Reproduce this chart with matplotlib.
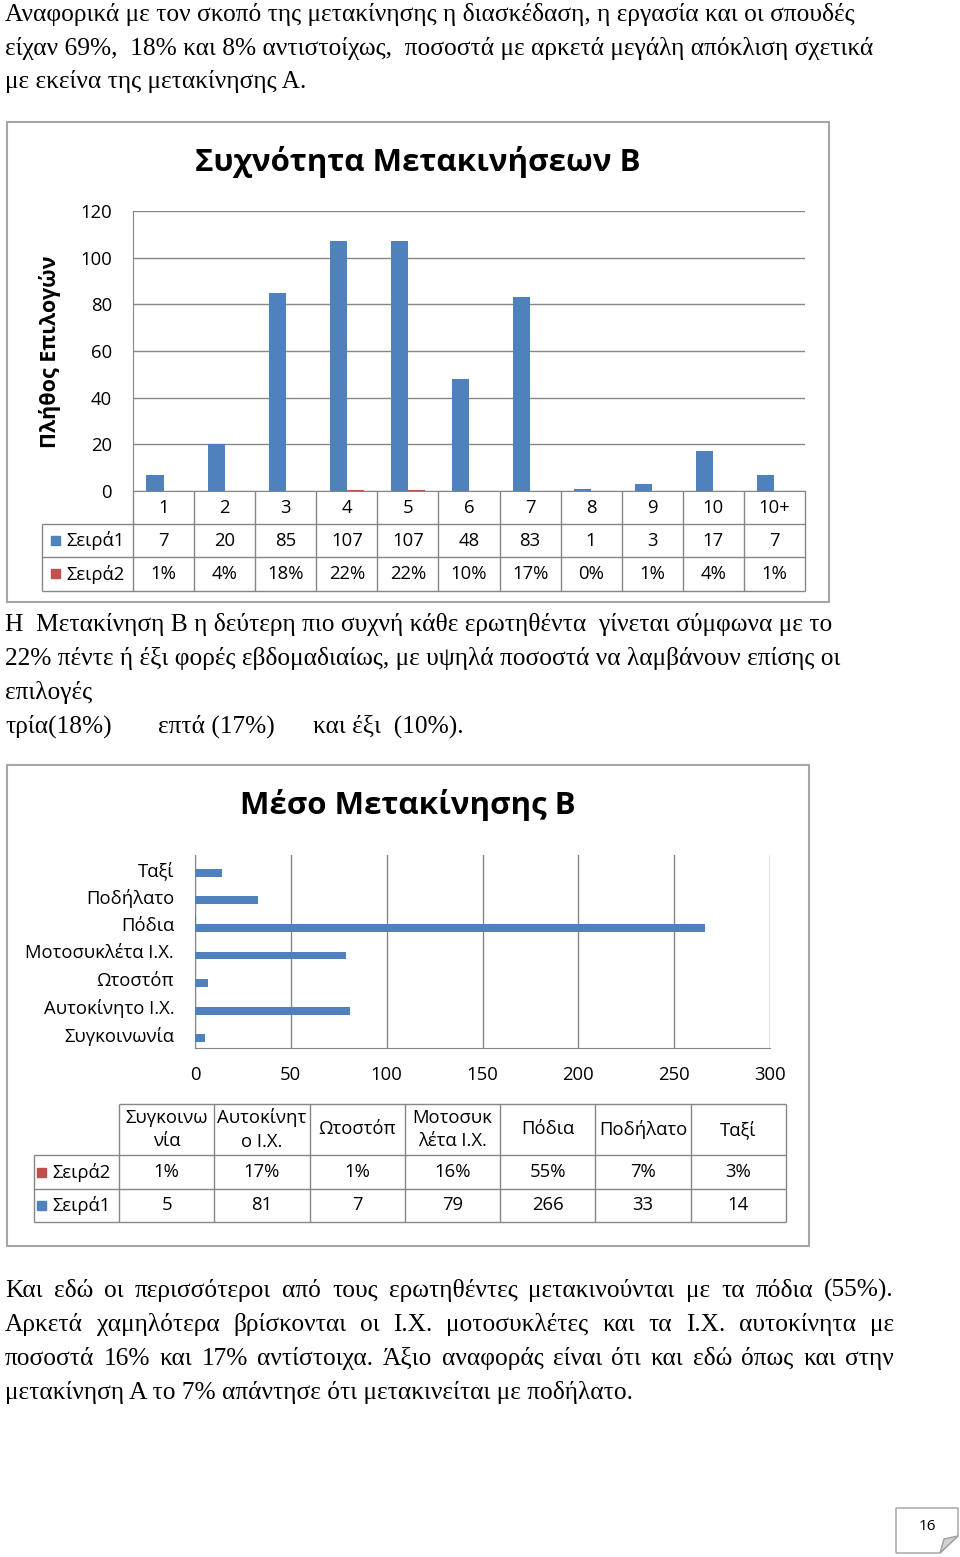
import matplotlib.pyplot as plt
from matplotlib.patches import Rectangle, Polygon
import numpy as np

# ---- data ----
freq_cats = ['1', '2', '3', '4', '5', '6', '7', '8', '9', '10', '10+']
freq_counts = [7, 20, 85, 107, 107, 48, 83, 1, 3, 17, 7]
freq_pct = [1, 4, 18, 22, 22, 10, 17, 0, 1, 4, 1]

mode_cats = ['Συγκοινωνία', 'Αυτοκίνητο Ι.Χ.', 'Ωτοστόπ', 'Μοτοσυκλέτα Ι.Χ.',
             'Πόδια', 'Ποδήλατο', 'Ταξί']
mode_heads = ['Συγκοινω\nνία', 'Αυτοκίνητ\nο Ι.Χ.', 'Ωτοστόπ', 'Μοτοσυκ\nλέτα Ι.Χ.',
              'Πόδια', 'Ποδήλατο', 'Ταξί']
mode_counts = [5, 81, 7, 79, 266, 33, 14]
mode_pct = [1, 17, 1, 16, 55, 7, 3]

series_names = ['Σειρά1', 'Σειρά2']

top_text = ['Αναφορικά με τον σκοπό της μετακίνησης η διασκέδαση, η εργασία και οι σπουδές',
            'είχαν 69%,  18% και 8% αντιστοίχως,  ποσοστά με αρκετά μεγάλη απόκλιση σχετικά',
            'με εκείνα της μετακίνησης Α.']
mid_text = ['Η  Μετακίνηση Β η δεύτερη πιο συχνή κάθε ερωτηθέντα  γίνεται σύμφωνα με το',
            '22% πέντε ή έξι φορές εβδομαδιαίως, με υψηλά ποσοστά να λαμβάνουν επίσης οι',
            'επιλογές']
mid_last = ['τρία(18%)', 'επτά (17%)', 'και έξι  (10%).']
bot_text = ['Και εδώ οι περισσότεροι από τους ερωτηθέντες μετακινούνται με τα πόδια (55%).',
            'Αρκετά χαμηλότερα βρίσκονται οι Ι.Χ. μοτοσυκλέτες και τα Ι.Χ. αυτοκίνητα με',
            'ποσοστά 16% και 17% αντίστοιχα. Άξιο αναφοράς είναι ότι και εδώ όπως και στην',
            'μετακίνηση Α το 7% απάντησε ότι μετακινείται με ποδήλατο.']

BLUE = '#4F81BD'
RED = '#C0504D'
GRID = '#868686'
FRAME = '#A6A6A6'
SANS = ['Open Sans', 'DejaVu Sans']
SERIF = ['Liberation Serif', 'DejaVu Serif']
BODY = 18.3
FS = 13.3

W, H = 960, 1557
fig = plt.figure(figsize=(W / 100, H / 100), dpi=100)
fig.patch.set_facecolor('white')


def box(x0, y0, x1, y1):
    return [x0 / W, 1 - y1 / H, (x1 - x0) / W, (y1 - y0) / H]


# overlay in pixel coordinates
ov = fig.add_axes([0, 0, 1, 1])
ov.set_xlim(0, W)
ov.set_ylim(H, 0)
ov.axis('off')
renderer = fig.canvas.get_renderer()


def line(x0, y0, x1, y1, **kw):
    ov.plot([x0, x1], [y0, y1], color=GRID, lw=1, solid_capstyle='butt', **kw)


def para(lines, x0, y0, step, right=None, size=BODY):
    for i, s in enumerate(lines):
        y = y0 + i * step
        if right is None or i == len(lines) - 1:
            ov.text(x0, y, s, family=SERIF, fontsize=size, va='baseline')
            continue
        words = s.split()
        ts = [ov.text(0, y, w, family=SERIF, fontsize=size, va='baseline') for w in words]
        ws = [t.get_window_extent(renderer).width for t in ts]
        gap = (right - x0 - sum(ws)) / (len(words) - 1)
        x = x0
        for t, w in zip(ts, ws):
            t.set_x(x)
            x += w + gap


# ---- body text ----
para(top_text, 5, 21, 33.5)
para(mid_text, 5, 631, 34)
for s, x in zip(mid_last, [5, 158, 313]):
    ov.text(x, 733, s, family=SERIF, fontsize=BODY, va='baseline')
para(bot_text, 5, 1297, 34, right=894)

# ---- chart 1 frame and title ----
ov.add_patch(Rectangle((7, 122), 822, 480, fill=False, ec=FRAME, lw=1.5))
ov.text(418, 162, 'Συχνότητα Μετακινήσεων Β', family=SANS, fontsize=22.5,
        fontweight='bold', ha='center', va='center')
ov.text(50, 352, 'Πλήθος Επιλογών', family=SANS, fontsize=15.5, fontweight='bold',
        rotation=90, ha='center', va='center')

ax1 = fig.add_axes(box(133, 211, 805, 491))
n1 = len(freq_cats)
x = np.arange(n1)
ax1.bar(x - 0.14, freq_counts, width=0.28, color=BLUE, zorder=3)
ax1.bar(x + 0.14, np.array(freq_pct) / 100, width=0.28, color=RED, zorder=3)
ax1.set_xlim(-0.5, n1 - 0.5)
ax1.set_ylim(0, 120)
ax1.set_yticks(range(0, 121, 20))
ax1.set_xticks([])
ax1.tick_params(axis='y', length=0, pad=15, labelsize=FS)
for lab in ax1.get_yticklabels():
    lab.set_family(SANS)
ax1.yaxis.grid(True, color=GRID, lw=1)
ax1.set_axisbelow(True)
for s in ['top', 'right']:
    ax1.spines[s].set_visible(False)
for s in ['left', 'bottom']:
    ax1.spines[s].set_color(GRID)
ax1.patch.set_alpha(0)

# table under chart 1
cx0, cx1 = 133, 805
cw = (cx1 - cx0) / n1
rows1 = [491, 524, 557, 591]
for yy in rows1[1:]:
    line(42, yy, cx1, yy)
for i in range(n1 + 1):
    line(cx0 + i * cw, rows1[0], cx0 + i * cw, rows1[-1])
line(42, rows1[1], 42, rows1[-1])
row_vals = [freq_cats, [str(v) for v in freq_counts], ['%d%%' % v for v in freq_pct]]
for r, vals in enumerate(row_vals):
    yc = (rows1[r] + rows1[r + 1]) / 2
    for i, v in enumerate(vals):
        ov.text(cx0 + (i + 0.5) * cw, yc, v, family=SANS, fontsize=FS,
                ha='center', va='center')
for r, (name, col) in enumerate(zip(series_names, [BLUE, RED])):
    yc = (rows1[r + 1] + rows1[r + 2]) / 2
    ov.add_patch(Rectangle((51, yc - 5), 9, 9, color=col))
    ov.text(66, yc, name, family=SANS, fontsize=FS, ha='left', va='center')

# ---- chart 2 frame and title ----
ov.add_patch(Rectangle((7, 765), 802, 481, fill=False, ec=FRAME, lw=1.5))
ov.text(408, 805, 'Μέσο Μετακίνησης Β', family=SANS, fontsize=22.5,
        fontweight='bold', ha='center', va='center')

ax2 = fig.add_axes(box(195, 855, 770, 1048))
n2 = len(mode_cats)
y = np.arange(n2)
ax2.barh(y - 0.145, mode_counts, height=0.29, color=BLUE, zorder=3)
ax2.barh(y + 0.145, np.array(mode_pct) / 100, height=0.29, color=RED, zorder=3)
ax2.set_ylim(-0.5, n2 - 0.5)
ax2.set_xlim(0, 300)
ax2.set_xticks(range(0, 301, 50))
ax2.set_yticks(y)
ax2.set_yticklabels(mode_cats)
ax2.tick_params(axis='y', length=0, pad=15, labelsize=FS)
ax2.tick_params(axis='x', length=0, pad=13, labelsize=FS)
for lab in ax2.get_yticklabels() + ax2.get_xticklabels():
    lab.set_family(SANS)
ax2.xaxis.grid(True, color=GRID, lw=1)
ax2.set_axisbelow(True)
for s in ['top', 'right']:
    ax2.spines[s].set_visible(False)
for s in ['left', 'bottom']:
    ax2.spines[s].set_color(GRID)
ax2.patch.set_alpha(0)

# table under chart 2
tx0, tx1 = 119, 786
tw = (tx1 - tx0) / n2
rows2 = [1104, 1155, 1189, 1222]
line(tx0, rows2[0], tx1, rows2[0])
for yy in rows2[1:]:
    line(34, yy, tx1, yy)
for i in range(n2 + 1):
    line(tx0 + i * tw, rows2[0], tx0 + i * tw, rows2[-1])
line(34, rows2[1], 34, rows2[-1])
row_vals2 = [mode_heads, ['%d%%' % v for v in mode_pct], [str(v) for v in mode_counts]]
for r, vals in enumerate(row_vals2):
    yc = (rows2[r] + rows2[r + 1]) / 2
    for i, v in enumerate(vals):
        ov.text(tx0 + (i + 0.5) * tw, yc, v, family=SANS, fontsize=FS,
                ha='center', va='center', linespacing=1.4)
for r, (name, col) in enumerate(zip(series_names[::-1], [RED, BLUE])):
    yc = (rows2[r + 1] + rows2[r + 2]) / 2
    ov.add_patch(Rectangle((37, yc - 4.5), 9, 9, color=col))
    ov.text(52, yc, name, family=SANS, fontsize=FS, ha='left', va='center')

# ---- page number ----
ov.add_patch(Polygon([(896, 1508), (958, 1508), (958, 1536), (940, 1553), (896, 1553)],
                     closed=True, fc='white', ec='#A0A0A0', lw=1))
ov.add_patch(Polygon([(940, 1553), (944, 1539), (958, 1536)], closed=True,
                     fc='#D0D0D0', ec='#A0A0A0', lw=1))
ov.text(927, 1526, '16', family=SANS, fontsize=11, ha='center', va='center')

fig.savefig('out.png', dpi=100)
